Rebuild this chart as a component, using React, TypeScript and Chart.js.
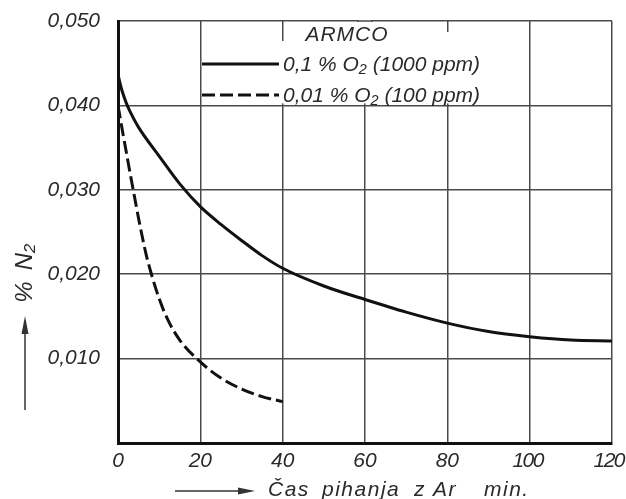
import React, { useEffect, useRef } from 'react';
import { Chart, registerables } from 'chart.js';

Chart.register(...registerables);

// ---- data ----
const xTicks = [0, 20, 40, 60, 80, 100, 120];
const xTickLabels = ['0', '20', '40', '60', '80', '100', '120'];
const yTicks = [0, 0.01, 0.02, 0.03, 0.04, 0.05];
const yTickLabels = ['', '0,010', '0,020', '0,030', '0,040', '0,050'];

const timeHigh = [0, 0.5, 1, 2, 3, 5, 10, 15, 20, 25, 30, 35, 40, 50, 60, 70, 80, 90, 100, 110, 120];
const n2High = [0.0437, 0.0426, 0.0417, 0.0403, 0.0392, 0.0374, 0.034, 0.0307, 0.028, 0.0259, 0.024, 0.0222, 0.0207, 0.0186, 0.017, 0.0155, 0.0142, 0.0132, 0.0126, 0.0122, 0.0121];

const timeLow = [0, 1, 2, 3, 4, 5, 6, 7, 8, 10, 12, 15, 20, 25, 30, 35, 40];
const n2Low = [0.04, 0.0372, 0.0345, 0.0318, 0.0292, 0.0266, 0.0242, 0.022, 0.0202, 0.0171, 0.0147, 0.0122, 0.0096, 0.0077, 0.0064, 0.0055, 0.0049];

const seriesLabels = ['0,1 % O₂ (1000 ppm)', '0,01 % O₂ (100 ppm)'];
const legendTitle = 'ARMCO';
const xTitleWords = ['Čas', 'pihanja', 'z', 'Ar', 'min.'];
const yTitleParts = ['%', 'N₂'];

const FAMILY = "'Liberation Sans', Arial, sans-serif";
const TEXT = '#2a2a2a';
const GRID = '#4a4a4a';
const INK = '#111';

const decor = {
  id: 'decor',
  beforeDatasetsDraw(chart: any) {
    const ctx = chart.ctx as CanvasRenderingContext2D;
    const xs = chart.scales.x;
    const ys = chart.scales.y;
    const top = chart.chartArea.top;
    const y40 = ys.getPixelForValue(0.04);
    ctx.save();
    ctx.fillStyle = '#fff';
    // legend area hides grid lines
    const xa = xs.getPixelForValue(20) + 2;
    const xb = xs.getPixelForValue(88);
    ctx.fillRect(xa, top + 20, xb - xa, y40 - 2 - (top + 20));
    const x60 = xs.getPixelForValue(60);
    ctx.fillRect(x60 - 6, 0, 12, top + 25);
    const x80 = xs.getPixelForValue(80);
    ctx.fillRect(x80 - 6, top + 11, 12, 12);
    // restore the top frame across the masked gap
    ctx.strokeStyle = GRID;
    ctx.lineWidth = 1.5;
    ctx.beginPath();
    ctx.moveTo(x60 - 8, top);
    ctx.lineTo(x60 + 8, top);
    ctx.stroke();
    ctx.restore();
  },
  afterDraw(chart: any) {
    const ctx = chart.ctx as CanvasRenderingContext2D;
    const ds = chart.data.datasets;
    const xs = chart.scales.x;
    ctx.save();
    ctx.fillStyle = TEXT;
    ctx.strokeStyle = INK;

    // x tick labels, positioned by the x scale
    ctx.font = `italic 21px ${FAMILY}`;
    ctx.textAlign = 'center';
    ctx.textBaseline = 'top';
    xTicks.forEach((v, i) => {
      const lbl = xTickLabels[i];
      (ctx as any).letterSpacing = lbl.includes('1') ? '-1.5px' : '0px';
      const w = ctx.measureText(lbl).width;
      let cx = xs.getPixelForValue(v);
      if (lbl.includes('1')) cx -= 2;
      cx = Math.min(cx, 624 - w / 2);
      ctx.fillText(lbl, cx, xs.top + 8);
    });
    (ctx as any).letterSpacing = '0px';

    // legend
    (ctx as any).letterSpacing = '1px';
    ctx.textAlign = 'center';
    ctx.textBaseline = 'middle';
    ctx.fillText(legendTitle, 347, 35);
    (ctx as any).letterSpacing = '0px';
    ctx.textAlign = 'left';
    const rows = [64, 95];
    ds.forEach((d: any, i: number) => {
      ctx.beginPath();
      ctx.lineWidth = 3;
      ctx.setLineDash(d.borderDash || []);
      ctx.moveTo(202, rows[i]);
      ctx.lineTo(279, rows[i]);
      ctx.stroke();
      ctx.setLineDash([]);
      ctx.fillText(d.label, 283, rows[i] + 1);
    });

    // x title with arrow
    ctx.lineWidth = 1.5;
    ctx.strokeStyle = '#333';
    ctx.fillStyle = '#333';
    ctx.beginPath();
    ctx.moveTo(175, 491);
    ctx.lineTo(242, 491);
    ctx.stroke();
    ctx.beginPath();
    ctx.moveTo(255, 491);
    ctx.lineTo(238, 487.5);
    ctx.lineTo(238, 494.5);
    ctx.closePath();
    ctx.fill();
    ctx.fillStyle = TEXT;
    ctx.font = `italic 21px ${FAMILY}`;
    (ctx as any).letterSpacing = '1.5px';
    ctx.textBaseline = 'alphabetic';
    const wx = [268, 322, 414, 433, 484];
    xTitleWords.forEach((w, i) => ctx.fillText(w, wx[i], 496));
    (ctx as any).letterSpacing = '0px';

    // y title with arrow
    ctx.fillStyle = '#333';
    ctx.beginPath();
    ctx.moveTo(25, 410);
    ctx.lineTo(25, 330);
    ctx.stroke();
    ctx.beginPath();
    ctx.moveTo(25, 316);
    ctx.lineTo(21.5, 334);
    ctx.lineTo(28.5, 334);
    ctx.closePath();
    ctx.fill();
    ctx.fillStyle = TEXT;
    ctx.translate(25, 272);
    ctx.rotate(-Math.PI / 2);
    ctx.font = `italic 24px ${FAMILY}`;
    ctx.textAlign = 'center';
    ctx.textBaseline = 'middle';
    ctx.fillText(yTitleParts[0], -20, 0);
    ctx.fillText(yTitleParts[1], 15, 0);
    ctx.restore();
  },
};

export default function App() {
  const ref = useRef<HTMLCanvasElement | null>(null);
  useEffect(() => {
    if (!ref.current) return;
    const font = { family: FAMILY, size: 21, style: 'italic' as const, weight: 'normal' as const };
    const chart = new Chart(ref.current, {
      type: 'line',
      data: {
        datasets: [
          {
            label: seriesLabels[0],
            data: timeHigh.map((t, i) => ({ x: t, y: n2High[i] })),
            borderColor: INK,
            borderWidth: 3,
            pointRadius: 0,
            cubicInterpolationMode: 'monotone',
            fill: false,
          },
          {
            label: seriesLabels[1],
            data: timeLow.map((t, i) => ({ x: t, y: n2Low[i] })),
            borderColor: INK,
            borderWidth: 3,
            borderDash: [13, 5],
            pointRadius: 0,
            cubicInterpolationMode: 'monotone',
            fill: false,
          },
        ],
      },
      options: {
        responsive: false,
        maintainAspectRatio: false,
        devicePixelRatio: 1,
        animation: false,
        layout: { padding: { top: 21, right: 14, left: 0, bottom: 0 } },
        plugins: {
          legend: { display: false },
          tooltip: { enabled: false },
          title: { display: false },
        },
        scales: {
          x: {
            type: 'linear',
            min: 0,
            max: 120,
            afterBuildTicks: (s: any) => {
              s.ticks = xTicks.map((v) => ({ value: v }));
            },
            afterFit: (s: any) => {
              s.height = 56;
              s.paddingLeft = 0;
              s.paddingRight = 0;
            },
            ticks: {
              display: false,
              callback: (_v: any, i: number) => xTickLabels[i],
              font,
              color: TEXT,
              autoSkip: false,
            },
            grid: { color: GRID, lineWidth: 1.5, drawTicks: false },
            border: { color: INK, width: 3 },
          },
          y: {
            type: 'linear',
            min: 0,
            max: 0.05,
            afterBuildTicks: (s: any) => {
              s.ticks = yTicks.map((v) => ({ value: v }));
            },
            afterFit: (s: any) => {
              s.width = 118;
              s.paddingTop = 0;
              s.paddingBottom = 0;
            },
            ticks: {
              callback: (_v: any, i: number) => yTickLabels[i],
              font,
              color: TEXT,
              padding: 18,
              autoSkip: false,
            },
            grid: { color: GRID, lineWidth: 1.5, drawTicks: false },
            border: { color: INK, width: 3 },
          },
        },
      } as any,
      plugins: [decor],
    });
    return () => chart.destroy();
  }, []);
  return (
    <div style={{ position: 'absolute', left: 0, top: 0, width: 626, height: 499, background: '#fff' }}>
      <canvas ref={ref} width={626} height={499} style={{ display: 'block' }} />
    </div>
  );
}
